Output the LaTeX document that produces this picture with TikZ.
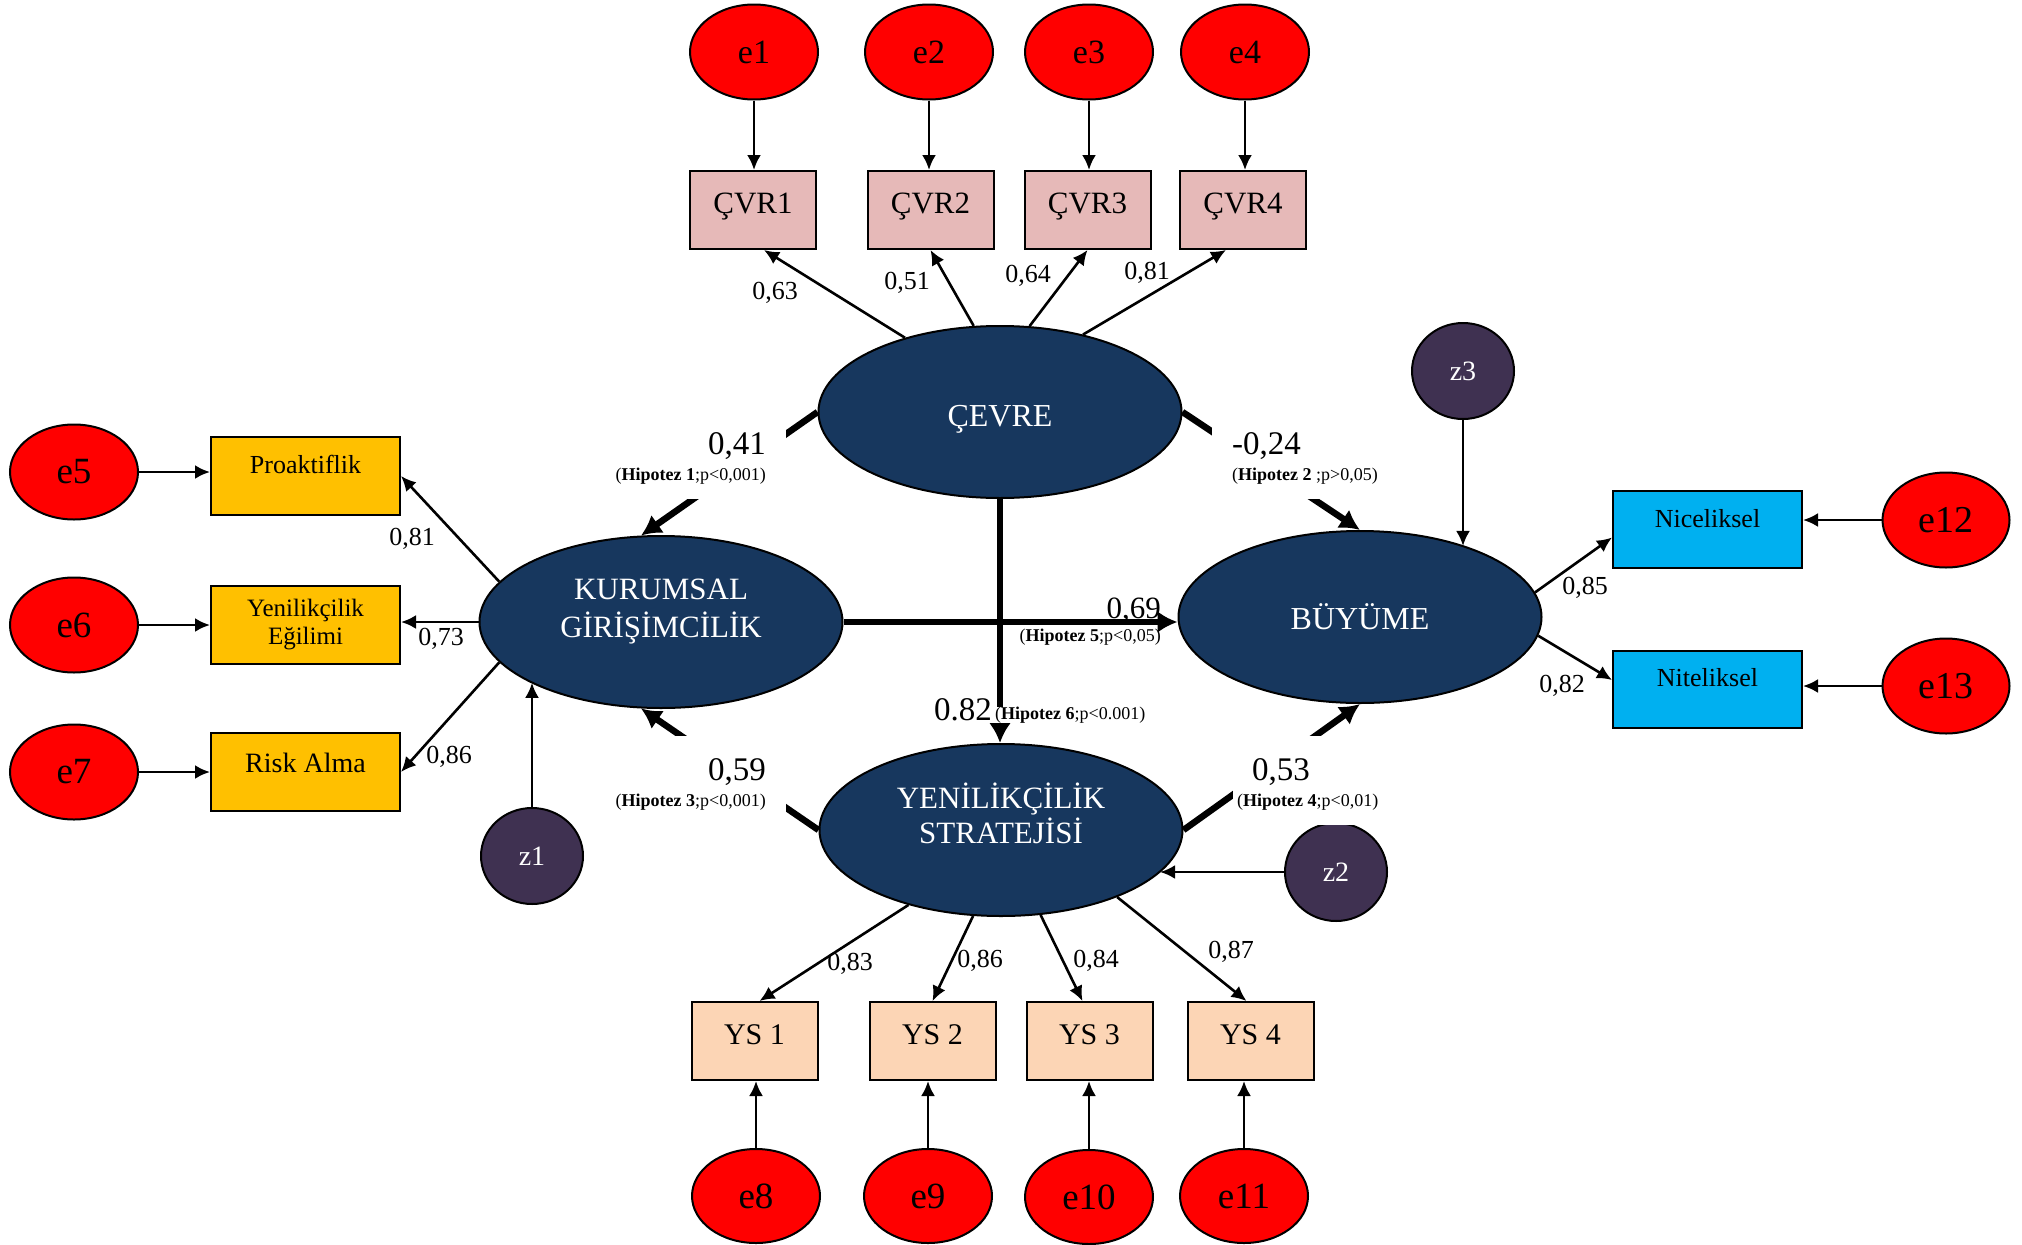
\documentclass[tikz,border=0pt]{standalone}
\usepackage{fontspec}
\setmainfont{Liberation Serif}
\usetikzlibrary{shapes.geometric,arrows.meta}
\definecolor{navy}{RGB}{23,55,94}
\definecolor{errred}{RGB}{255,0,0}
\definecolor{zpurp}{RGB}{63,49,81}
\definecolor{cvrpink}{RGB}{230,185,184}
\definecolor{yspeach}{RGB}{252,213,181}
\definecolor{kggold}{RGB}{255,192,0}
\definecolor{bucyan}{RGB}{0,176,240}
\newcommand{\myfs}[1]{\fontsize{#1}{#1}\selectfont}
\begin{document}
\begin{tikzpicture}[x=1pt,y=-1pt,
  errnode/.style={ellipse, draw=black, line width=2pt, fill=errred, minimum width=128pt, minimum height=95pt, inner sep=0pt, font=\myfs{36}},
  latent/.style={ellipse, draw=black, line width=2pt, fill=navy, text=white, minimum width=363pt, minimum height=172pt, inner sep=0pt, align=center},
  distnode/.style={ellipse, draw=black, line width=2pt, fill=zpurp, text=white, minimum width=102pt, minimum height=96pt, inner sep=0pt, font=\myfs{28}},
  obsbox/.style={rectangle, draw=black, line width=2pt, minimum width=126pt, minimum height=78pt, inner sep=0pt},
  ld/.style={font=\myfs{26}, inner sep=0pt},
  thinarr/.style={line width=2.6pt, -{Latex[length=15pt,width=14pt]}},
  thickarr/.style={line width=6.5pt, -{Latex[length=20pt,width=22pt]}},
  hyp/.style={fill=white, inner ysep=0pt, inner xsep=20pt, font=\fontsize{18}{26}\selectfont}
]
\path[fill=white] (0,0) rectangle (2022,1245);
\useasboundingbox (0,0) rectangle (2022,1245);

% error terms top
\node[errnode, font=\myfs{34}] (e1) at (754,52) {e1};
\node[errnode, font=\myfs{34}] (e2) at (929,52) {e2};
\node[errnode, font=\myfs{34}] (e3) at (1089,52) {e3};
\node[errnode, font=\myfs{34}] (e4) at (1245,52) {e4};

% CVR boxes
\node[obsbox, fill=cvrpink, font=\myfs{31}, text height=21pt, text depth=15pt] (cvr1) at (753,210) {ÇVR1};
\node[obsbox, fill=cvrpink, font=\myfs{31}, text height=21pt, text depth=15pt] (cvr2) at (930.5,210) {ÇVR2};
\node[obsbox, fill=cvrpink, font=\myfs{31}, text height=21pt, text depth=15pt] (cvr3) at (1087.5,210) {ÇVR3};
\node[obsbox, fill=cvrpink, font=\myfs{31}, text height=21pt, text depth=15pt] (cvr4) at (1243,210) {ÇVR4};

% latent variables
\node[latent, font=\myfs{32}, text height=28pt, text depth=0pt] (cev) at (1000,412) {ÇEVRE};
\node[latent, font=\fontsize{31}{38}\selectfont] (kg) at (661,622) {KURUMSAL\\GİRİŞİMCİLİK\rule[-28pt]{0pt}{28pt}};
\node[latent, font=\myfs{32}] (bu) at (1360,617) {BÜYÜME};
\node[latent, font=\fontsize{31}{35}\selectfont] (ys) at (1001,830) {YENİLİKÇİLİK\\STRATEJİSİ\rule[-34pt]{0pt}{34pt}};

% left side
\node[errnode, font=\myfs{37}] (e5) at (74,472) {e5};
\node[errnode, font=\myfs{37}] (e6) at (74,625) {e6};
\node[errnode, font=\myfs{37}] (e7) at (74,772) {e7};
\node[obsbox, fill=kggold, minimum width=189pt, font=\myfs{26}, text height=19pt, text depth=25pt] (prok) at (305.5,476) {Proaktiflik};
\node[obsbox, fill=kggold, minimum width=189pt, font=\fontsize{25}{28}\selectfont, align=center] (yen) at (305.5,625) {Yenilikçilik\\Eğilimi};
\node[obsbox, fill=kggold, minimum width=189pt, font=\myfs{28}, text height=19pt, text depth=19pt] (risk) at (305.5,772) {Risk Alma};
\node[distnode] (z1) at (532,856) {z1};

% right side
\node[distnode] (z3) at (1463,371) {z3};
\node[obsbox, fill=bucyan, minimum width=189pt, minimum height=77pt, font=\myfs{26}, text height=19pt, text depth=24pt] (nic) at (1707.5,529.5) {Niceliksel};
\node[obsbox, fill=bucyan, minimum width=189pt, minimum height=77pt, font=\myfs{26}, text height=19pt, text depth=25pt] (nit) at (1707.5,689) {Niteliksel};
\node[errnode, minimum width=127pt, font=\myfs{38}] (e12) at (1946,520) {e12};
\node[errnode, minimum width=127pt, font=\myfs{38}] (e13) at (1946,686) {e13};
\node[distnode, minimum height=98pt] (z2) at (1336,872) {z2};

% bottom
\node[obsbox, fill=yspeach, font=\myfs{30}, text height=21pt, text depth=15pt] (ys1) at (754.5,1041) {YS 1};
\node[obsbox, fill=yspeach, font=\myfs{30}, text height=21pt, text depth=15pt] (ys2) at (932.5,1041) {YS 2};
\node[obsbox, fill=yspeach, font=\myfs{30}, text height=21pt, text depth=15pt] (ys3) at (1089.5,1041) {YS 3};
\node[obsbox, fill=yspeach, font=\myfs{30}, text height=21pt, text depth=15pt] (ys4) at (1250.5,1041) {YS 4};
\node[errnode, minimum height=94pt, font=\myfs{37}] (e8) at (756,1196) {e8};
\node[errnode, minimum height=94pt, font=\myfs{37}] (e9) at (928,1196) {e9};
\node[errnode, minimum height=94pt, font=\myfs{37}] (e10) at (1089,1197) {e10};
\node[errnode, minimum height=94pt, font=\myfs{37}] (e11) at (1244,1196) {e11};

% thin connectors
\draw[thinarr] (e1.south) -- (e1.south |- cvr1.north);
\draw[thinarr] (e2.south) -- (e2.south |- cvr2.north);
\draw[thinarr] (e3.south) -- (e3.south |- cvr3.north);
\draw[thinarr] (e4.south) -- (e4.south |- cvr4.north);
\draw[thinarr] (cev.142) -- ([xshift=11pt]cvr1.south);
\draw[thinarr] (cev.107) -- (cvr2.south);
\draw[thinarr] (cev.71) -- (cvr3.south);
\draw[thinarr] (cev.43) -- ([xshift=-17pt]cvr4.south);

\draw[thinarr] (e5.east) -- (e5.east -| prok.west);
\draw[thinarr] (e6.east) -- (e6.east -| yen.west);
\draw[thinarr] (e7.east) -- (e7.east -| risk.west);
\draw[thinarr] (kg.166.5) -- (prok.east);
\draw[thinarr] (kg.west) -- (kg.west -| yen.east);
\draw[thinarr] (kg.194.3) -- (risk.east);
\draw[thinarr] (z1.north) -- (z1.north |- kg.205.5);

\draw[thinarr] (z3.south) -- (z3.south |- bu.34.8);
\draw[thinarr] (bu.8.2) -- ([yshift=-8pt]nic.west);
\draw[thinarr] (bu.354.7) -- ([yshift=9pt]nit.west);
\draw[thinarr] (e12.west) -- (e12.west -| nic.east);
\draw[thinarr] (e13.west) -- (e13.west -| nit.east);
\draw[thinarr] (z2.west) -- (z2.west -| ys.345.2);

\draw[thinarr] (ys.219.3) -- ([xshift=5pt]ys1.north);
\draw[thinarr] (ys.252.8) -- (ys2.north);
\draw[thinarr] (ys.295.2) -- ([xshift=-7pt]ys3.north);
\draw[thinarr] (ys.330) -- ([xshift=-4pt]ys4.north);
\draw[thinarr] (e8.north) -- (e8.north |- ys1.south);
\draw[thinarr] (e9.north) -- (e9.north |- ys2.south);
\draw[thinarr] (e10.north) -- (e10.north |- ys3.south);
\draw[thinarr] (e11.north) -- (e11.north |- ys4.south);

% thick structural paths
\draw[thickarr] (cev.west) -- (kg.103);
\draw[thickarr] (cev.east) -- (bu.north);
\draw[thickarr] (ys.west) -- (kg.257);
\draw[thickarr] (ys.east) -- (bu.south);
\draw[thickarr] (kg.east) -- (kg.east -| bu.west);
\draw[thickarr] (cev.south) -- (cev.south |- ys.north);

% loading labels
\node[ld] (l1) at (775,293) {0,63};
\node[ld] (l2) at (907,283) {0,51};
\node[ld] (l3) at (1028,276) {0,64};
\node[ld] (l4) at (1147,273) {0,81};
\node[ld] (l5) at (412,539) {0,81};
\node[ld] (l6) at (441,639) {0,73};
\node[ld] (l7) at (449,757) {0,86};
\node[ld] (l8) at (1585,588) {0,85};
\node[ld] (l9) at (1562,686) {0,82};
\node[ld] (l10) at (850,964) {0,83};
\node[ld] (l11) at (980,961) {0,86};
\node[ld] (l12) at (1096,961) {0,84};
\node[ld] (l13) at (1231,952) {0,87};

% hypothesis labels
\node[hyp, align=right, anchor=north east] (h1) at (786,410) {\rule{0pt}{44pt}{\myfs{33}0,41}\\(\textbf{Hipotez 1};p<0,001)\rule[-19pt]{0pt}{19pt}};
\node[hyp, align=left, anchor=north west] (h2) at (1212,410) {\rule{0pt}{44pt}{\myfs{33}-0,24}\\(\textbf{Hipotez 2} ;p>0,05)\rule[-19pt]{0pt}{19pt}};
\node[hyp, align=right, anchor=north east] (h3) at (786,736) {\rule{0pt}{44pt}{\myfs{33}0,59}\\(\textbf{Hipotez 3};p<0,001)\rule[-19pt]{0pt}{19pt}};
\node[hyp, inner xsep=4pt, align=left, anchor=north west] (h4) at (1233,736) {\rule{0pt}{44pt}\hspace*{15pt}{\myfs{33}0,53}\\(\textbf{Hipotez 4};p<0,01)\rule[-19pt]{0pt}{19pt}};
\node[font=\fontsize{18}{23}\selectfont, align=right, anchor=north east, inner sep=0pt] (h5) at (1161,598) {{\myfs{31}0,69}\\(\textbf{Hipotez 5};p<0,05)};
\node[font=\myfs{33}, anchor=base east, inner sep=0pt] (h6a) at (992,720) {0.82};
\node[fill=white, font=\myfs{18}, anchor=base west, inner sep=0pt] (h6b) at (995,719) {(\textbf{Hipotez 6};p<0.001)};
\end{tikzpicture}
\end{document}
